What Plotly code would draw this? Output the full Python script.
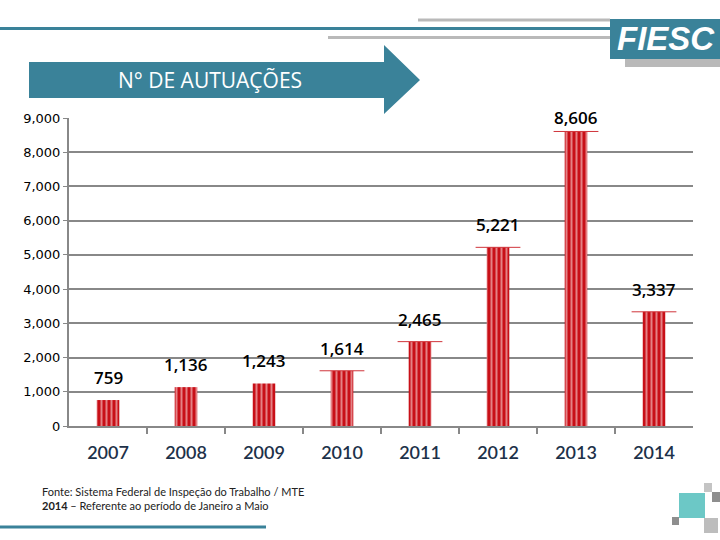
import plotly.graph_objects as go

years = ["2007", "2008", "2009", "2010", "2011", "2012", "2013", "2014"]
values = [759, 1136, 1243, 1614, 2465, 5221, 8606, 3337]
value_labels = ["759", "1,136", "1,243", "1,614", "2,465", "5,221", "8,606", "3,337"]
cap_years = ["2010", "2011", "2012", "2013", "2014"]
y_ticks = [0, 1000, 2000, 3000, 4000, 5000, 6000, 7000, 8000, 9000]

W, H = 720, 540
L, R, T, B = 69, 693, 118, 426
TEAL = "#3A8299"
RED = "#C80F17"

xpos = list(range(len(years)))
cap_x = [years.index(c) for c in cap_years]
cap_y = [values[i] for i in cap_x]


def px(x):
    return (x - L) / (R - L)


def py(y):
    return (B - y) / (B - T)


fig = go.Figure()
fig.add_trace(go.Bar(
    x=xpos, y=values, width=0.29,
    marker=dict(color=RED, line=dict(width=0),
                pattern=dict(shape="|", fgcolor="#FFF4F4", bgcolor=RED,
                             size=5, solidity=0.4)),
    hoverinfo="skip",
))
fig.add_trace(go.Scatter(
    x=cap_x, y=cap_y, mode="markers",
    marker=dict(symbol="line-ew", size=32, line=dict(width=1, color="#D0353B")),
    hoverinfo="skip",
))

shapes = []
annotations = []

# data labels
for i, (v, lab) in enumerate(zip(values, value_labels)):
    annotations.append(dict(
        x=i, y=v, xref="x", yref="y", text=lab, showarrow=False,
        xanchor="center", yanchor="bottom",
        yshift=0 if v > 8000 else 9,
        font=dict(family="Open Sans, Lato, sans-serif", size=17, color="#000000", weight=600),
    ))


def rect(x0, y0, x1, y1, color):
    shapes.append(dict(type="rect", xref="paper", yref="paper",
                       x0=px(x0), x1=px(x1), y0=py(y1), y1=py(y0),
                       fillcolor=color, line=dict(width=0), layer="above"))


def text(x, y, s, size, color, family, xanchor="center"):
    annotations.append(dict(x=px(x), y=py(y), xref="paper", yref="paper",
                            text=s, showarrow=False, xanchor=xanchor, yanchor="middle",
                            font=dict(family=family, size=size, color=color)))


# header lines
rect(418, 18.5, 610, 21.5, "#B9B9B9")
rect(0, 27, 610, 30, TEAL)
rect(328, 36, 610, 39, "#B9B9B9")
# logo
rect(625, 59, 720, 67, "#B9B9B9")
rect(610, 19, 720, 59, TEAL)
text(666, 39, "<b><i>FIESC</i></b>", 33, "white", "Liberation Sans, Arial")

# arrow
path = "M {a},{b} L {c},{b} L {c},{d} L {e},{f} L {c},{g} L {c},{h} L {a},{h} Z".format(
    a=px(29), b=py(62), c=px(384), d=py(45), e=px(420), f=py(80), g=py(114), h=py(98))
shapes.append(dict(type="path", xref="paper", yref="paper", path=path,
                   fillcolor=TEAL, line=dict(width=0), layer="above"))
text(210, 80, "N° DE AUTUAÇÕES", 21, "white", "Open Sans, Lato, sans-serif")

# footer
text(40, 491, "Fonte: Sistema Federal de Inspeção do Trabalho / MTE", 11, "#222222",
     "Lato, Open Sans, sans-serif", xanchor="left")
text(40, 505, "<b>2014</b> – Referente ao período de Janeiro a Maio", 11, "#222222",
     "Lato, Open Sans, sans-serif", xanchor="left")
rect(0, 525.5, 266, 528.5, TEAL)

# decorative squares
rect(704, 483, 712, 492, "#C4C4C4")
rect(712, 492, 720, 502, "#8E8E8E")
rect(679, 493, 705, 518, "#6CC8C6")
rect(672, 517, 679, 525, "#8E8E8E")
rect(704, 518, 718, 533, "#BDBDBD")

fig.update_layout(
    width=W, height=H,
    margin=dict(l=L, r=W - R, t=T, b=H - B, autoexpand=False),
    paper_bgcolor="white", plot_bgcolor="white",
    showlegend=False,
    shapes=shapes, annotations=annotations,
    xaxis=dict(range=[-0.5, len(years) - 0.5], tickmode="array", tickvals=xpos, ticktext=years,
               showline=True, linecolor="#888888", linewidth=2,
               ticks="", ticklen=0, showgrid=False, zeroline=False, tickangle=0,
               minor=dict(tickmode="array", tickvals=[i + 0.5 for i in xpos[:-1]],
                          ticks="outside", ticklen=6, tickcolor="#888888", tickwidth=1.5,
                          showgrid=False),
               ticklabelstandoff=9,
               tickfont=dict(family="Lato, Open Sans, sans-serif", size=18, color="#1D3149",
                             weight=600)),
    yaxis=dict(range=[0, 9000], tickvals=y_ticks, tickformat=",",
               showline=True, linecolor="#888888", linewidth=2,
               ticks="outside", ticklen=4, tickcolor="#888888",
               showgrid=True, gridcolor="#888888", gridwidth=1.5,
               zeroline=False,
               tickfont=dict(family="DejaVu Sans, Verdana", size=13, color="#000000")),
)

fig.write_html("out.html")
